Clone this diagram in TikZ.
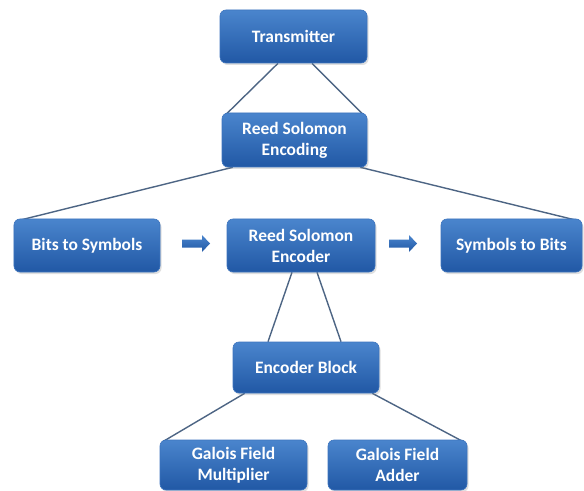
\documentclass[tikz,border=0pt]{standalone}
\usepackage{fontspec}
\setmainfont{Carlito}
\usetikzlibrary{shadows,backgrounds,calc}
\definecolor{boxtop}{HTML}{4A85CD}
\definecolor{boxbot}{HTML}{2158A5}
\definecolor{boxedge}{HTML}{3C74BE}
\definecolor{linkcol}{HTML}{4D6584}
\tikzset{
  blockbox/.style={rounded corners=6bp, top color=boxtop, bottom color=boxbot,
    draw=boxedge, line width=0.6bp, text=white, align=center,
    font=\fontsize{17.5}{21}\selectfont\bfseries, inner sep=0pt,
    drop shadow={opacity=0.25, shadow xshift=1.5bp, shadow yshift=-2bp}},
  link/.style={draw=linkcol, line width=1.4bp},
  fatarrow/.style={top color=boxtop, bottom color=boxbot, draw=none}
}
\begin{document}
\begin{tikzpicture}[x=1bp,y=-1bp]
\useasboundingbox (0,0) rectangle (584,491);
\node[blockbox, minimum width=147bp, minimum height=53bp] (tx) at (293.5,36.5) {Transmitter};
\node[blockbox, minimum width=145bp, minimum height=54bp] (rse) at (294.5,140) {Reed Solomon\\Encoding};
\node[blockbox, minimum width=146bp, minimum height=53bp] (bits) at (87,245.5) {Bits to Symbols};
\node[blockbox, minimum width=148bp, minimum height=53bp] (enc) at (301,245.5) {Reed Solomon\\Encoder};
\node[blockbox, minimum width=141bp, minimum height=53bp] (sym) at (511.5,245.5) {Symbols to Bits};
\node[blockbox, minimum width=146bp, minimum height=51bp] (eb) at (306,367.5) {Encoder Block};
\node[blockbox, minimum width=147bp, minimum height=50bp] (mul) at (233.5,465) {Galois Field\\Multiplier};
\node[blockbox, minimum width=139bp, minimum height=50bp] (add) at (397.5,465) {Galois Field\\Adder};
\begin{scope}[on background layer]
\fill[white] (0,0) rectangle (584,491);
\draw[link] ([xshift=-15.5bp]tx.south) -- ([xshift=4bp,yshift=-2bp]rse.north west);
\draw[link] ([xshift=18.5bp]tx.south) -- ([xshift=-4bp,yshift=-2bp]rse.north east);
\draw[link] ([xshift=11bp]rse.south west) -- ([xshift=4bp,yshift=-2bp]bits.north west);
\draw[link] ([xshift=-7bp]rse.south east) -- ([xshift=-4bp,yshift=-2bp]sym.north east);
\draw[link] ([xshift=-9bp]enc.south) -- ([xshift=-38bp]eb.north);
\draw[link] ([xshift=16bp]enc.south) -- ([xshift=35bp]eb.north);
\draw[link] ([xshift=12bp]eb.south west) -- ([xshift=3bp,yshift=-2bp]mul.north west);
\draw[link] ([xshift=-7bp]eb.south east) -- ([xshift=-4bp,yshift=-2bp]add.north east);
\end{scope}
\coordinate (a1) at (182,243.5);
\coordinate (a2) at (389,243.5);
\foreach \c in {a1,a2}{
  \path[fatarrow] ($(\c)+(0,-4)$) -- ++(20,0) -- ++(0,-4.5) -- ++(8,8.5) -- ++(-8,8.5) -- ++(0,-4.5) -- ++(-20,0) -- cycle;
}
\end{tikzpicture}
\end{document}
